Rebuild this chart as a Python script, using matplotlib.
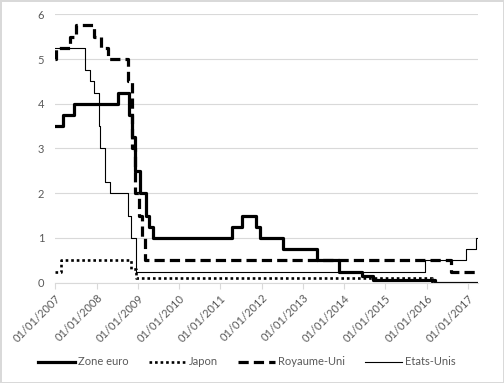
import matplotlib
matplotlib.use("Agg")
import matplotlib.pyplot as plt
import matplotlib.dates as mdates
import pandas as pd

plt.rcParams['font.family'] = ['Lato', 'DejaVu Sans']

end_date = "2017-03-31"

# taux directeurs (dates de changement, niveau)
ze_dates = ["2007-01-01", "2007-03-14", "2007-06-13", "2008-07-09", "2008-10-15",
            "2008-11-12", "2008-12-10", "2009-01-21", "2009-03-11", "2009-04-08",
            "2009-05-13", "2011-04-13", "2011-07-13", "2011-11-09", "2011-12-14",
            "2012-07-11", "2013-05-08", "2013-11-13", "2014-06-11", "2014-09-10",
            "2016-03-16", end_date]
ze_vals = [3.5, 3.75, 4.0, 4.25, 3.75, 3.25, 2.5, 2.0, 1.5, 1.25, 1.0, 1.25, 1.5,
           1.25, 1.0, 0.75, 0.5, 0.25, 0.15, 0.05, 0.0, 0.0]

jp_dates = ["2007-01-01", "2007-02-21", "2008-10-31", "2008-12-19", "2016-02-16", end_date]
jp_vals = [0.25, 0.5, 0.3, 0.1, -0.1, -0.1]

uk_dates = ["2007-01-01", "2007-01-11", "2007-05-10", "2007-07-05", "2007-12-06",
            "2008-02-07", "2008-04-10", "2008-10-08", "2008-11-06", "2008-12-04",
            "2009-01-08", "2009-02-05", "2009-03-05", "2016-08-04", end_date]
uk_vals = [5.0, 5.25, 5.5, 5.75, 5.5, 5.25, 5.0, 4.5, 3.0, 2.0, 1.5, 1.0, 0.5, 0.25, 0.25]

us_dates = ["2007-01-01", "2007-09-18", "2007-10-31", "2007-12-11", "2008-01-22",
            "2008-01-30", "2008-03-18", "2008-04-30", "2008-10-08", "2008-10-29",
            "2008-12-16", "2015-12-16", "2016-12-14", "2017-03-15", end_date]
us_vals = [5.25, 4.75, 4.5, 4.25, 3.5, 3.0, 2.25, 2.0, 1.5, 1.0, 0.25, 0.5, 0.75, 1.0, 1.0]

years = list(range(2007, 2018))

fig = plt.figure(figsize=(5.04, 3.83), dpi=100, linewidth=1, edgecolor='#d9d9d9')
ax = fig.add_axes([0.1097, 0.2619, 0.8387, 0.7008])

ax.plot(pd.to_datetime(ze_dates), ze_vals, drawstyle='steps-post', color='black',
        lw=2.3, label="Zone euro")
ax.plot(pd.to_datetime(jp_dates), jp_vals, drawstyle='steps-post', color='black',
        lw=1.9, linestyle=(0, (1, 1.1)), label="Japon")
ax.plot(pd.to_datetime(uk_dates), uk_vals, drawstyle='steps-post', color='black',
        lw=2.3, linestyle=(0, (3.2, 1.6)), label="Royaume-Uni")
ax.plot(pd.to_datetime(us_dates), us_vals, drawstyle='steps-post', color='black',
        lw=0.8, label="Etats-Unis")

ax.set_ylim(0, 6)
ax.set_xlim(pd.Timestamp("2007-01-01"), pd.Timestamp(end_date))
ax.set_yticks(range(0, 7))
ax.set_xticks(pd.to_datetime([f"{y}-01-01" for y in years]))
ax.xaxis.set_major_formatter(mdates.DateFormatter("%d/%m/%Y"))
plt.setp(ax.get_xticklabels(), rotation=45, ha='right', va='top', rotation_mode='anchor')

ax.grid(axis='y', color='#d9d9d9', lw=0.8)
ax.set_axisbelow(True)
for s in ['top', 'right', 'left']:
    ax.spines[s].set_visible(False)
ax.spines['bottom'].set_color('#d9d9d9')
ax.tick_params(axis='y', length=0, labelsize=8, labelcolor='#595959', pad=8)
ax.tick_params(axis='x', length=4, color='#d9d9d9', labelsize=8, labelcolor='#595959', pad=3)

leg = fig.legend(loc='center', bbox_to_anchor=(0.49, 0.055), ncol=4, frameon=False,
                 fontsize=8, handlelength=3.3, handletextpad=0.3, columnspacing=1.8)
for t in leg.get_texts():
    t.set_color('#595959')

fig.savefig("out.png", dpi=100)
